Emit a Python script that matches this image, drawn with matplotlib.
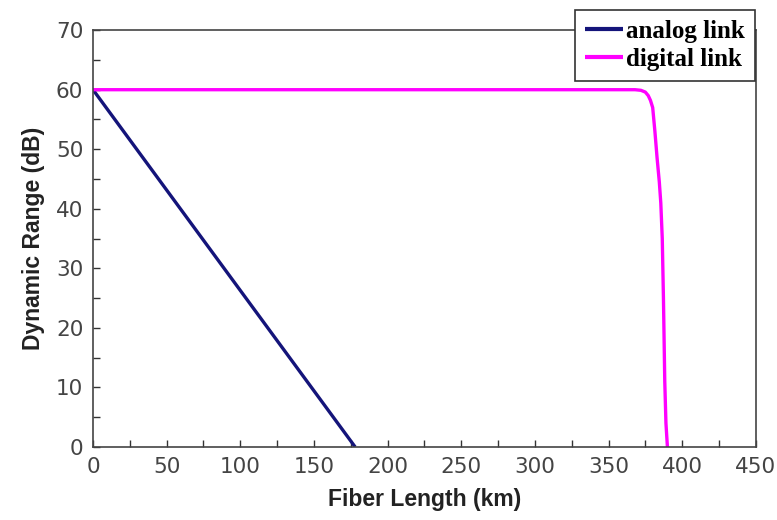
import matplotlib.pyplot as plt
from matplotlib.ticker import MultipleLocator

# fiber length (km) vs dynamic range (dB)
analog_km = [0, 178]
analog_db = [60, 0]

digital_km = [0, 368, 372, 375, 377, 378.5, 380, 381.5, 383, 384.5, 385.5,
              386.5, 387.3, 388.2, 389, 390]
digital_db = [60, 60, 59.9, 59.6, 59, 58.2, 57, 53, 48.5, 44.5, 41,
              35, 25, 11, 4, 0]

x_ticks = [0, 50, 100, 150, 200, 250, 300, 350, 400, 450]
y_ticks = [0, 10, 20, 30, 40, 50, 60, 70]

fig = plt.figure(figsize=(7.77, 5.2), dpi=100)
ax = fig.add_axes([0.1197, 0.1404, 0.853, 0.8016])

ax.plot(analog_km, analog_db, color='#14147a', lw=2.4, label='analog link',
        solid_capstyle='butt')
ax.plot(digital_km, digital_db, color='#ff00ff', lw=2.4, label='digital link',
        solid_capstyle='butt')

ax.set_xlim(0, 450)
ax.set_ylim(0, 70)
ax.set_xticks(x_ticks)
ax.set_yticks(y_ticks)
ax.xaxis.set_minor_locator(MultipleLocator(25))
ax.yaxis.set_minor_locator(MultipleLocator(5))
ax.tick_params(which='both', direction='in', color='#333333', length=5, width=1)
ax.tick_params(which='major', labelsize=15.5, labelcolor='#444444', pad=7)
for lab in ax.get_xticklabels() + ax.get_yticklabels():
    lab.set_fontfamily('DejaVu Sans')
for sp in ax.spines.values():
    sp.set_color('#444444')
    sp.set_linewidth(1.2)

ax.set_xlabel('Fiber Length (km)', fontsize=16.5, fontweight='bold',
              family='Liberation Sans', color='#222222', labelpad=8)
ax.set_ylabel('Dynamic Range (dB)', fontsize=16.5, fontweight='bold',
              family='Liberation Sans', color='#222222', labelpad=8)

leg = ax.legend(loc='upper right', bbox_to_anchor=(755 / 777, 1 - 10 / 520),
                bbox_transform=fig.transFigure,
                prop={'family': 'Liberation Serif', 'size': 18, 'weight': 'bold'},
                frameon=True, fancybox=False, edgecolor='#333333', framealpha=1,
                handlelength=1.5, handletextpad=0.15, borderpad=0.4,
                labelspacing=0.2, borderaxespad=0)
leg.get_frame().set_linewidth(1.2)
for h in leg.get_lines():
    h.set_linewidth(3)

fig.savefig('out.png', dpi=100)
